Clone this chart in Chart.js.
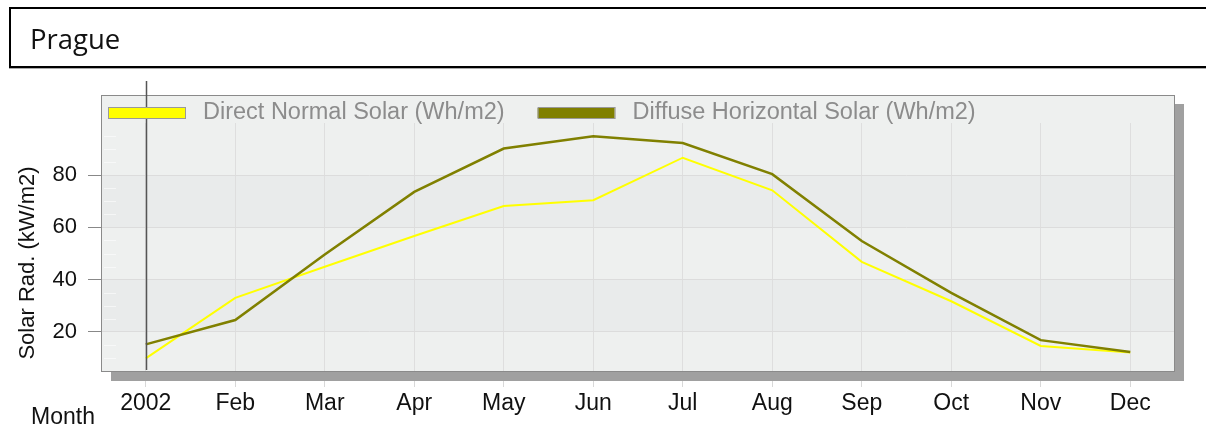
<!DOCTYPE html>
<html>
<head>
<meta charset="utf-8">
<title>Prague</title>
<script src="https://cdn.jsdelivr.net/npm/chart.js@4.4.1/dist/chart.umd.min.js"></script>
<style>
    html, body { margin: 0; padding: 0; background: #fff; overflow: hidden; }
    #wrap { position: relative; width: 1206px; height: 428px; }
    #titleBox {
        position: absolute; left: 9px; top: 7px; width: 1300px; height: 57px;
        border: 2px solid #000; box-shadow: 0 1px 0 #aaa;
        font-family: "Open Sans", sans-serif; font-size: 27.5px; color: #111;
        line-height: 59px; padding-left: 19px; box-sizing: content-box;
    }
    #chart { position: absolute; left: 0; top: 0; }
</style>
</head>
<body>
<div id="wrap">
    <canvas id="chart" width="1206" height="428"></canvas>
    <div id="titleBox">Prague</div>
</div>
<script>
// Data
const months = ['2002', 'Feb', 'Mar', 'Apr', 'May', 'Jun', 'Jul', 'Aug', 'Sep', 'Oct', 'Nov', 'Dec'];
const directNormal = [9.8, 33.0, 44.9, 56.7, 68.2, 70.4, 86.7, 74.2, 46.8, 31.7, 14.6, 12.1];
const diffuseHorizontal = [15.2, 24.5, 49.6, 73.6, 90.2, 94.9, 92.3, 80.4, 54.8, 34.9, 16.8, 12.3];
const yTicks = [20, 40, 60, 80];
const yMin = 4.6;
const yMax = 100;

const FONT = '"Liberation Sans", Arial, sans-serif';

// plot box, bands, shadow, legend, cursor line
const frame = {
    id: 'frame',
    beforeDraw(chart) {
        const ctx = chart.ctx;
        const a = chart.chartArea;
        const y = chart.scales.y;
        const boxTop = 95;
        ctx.save();
        ctx.fillStyle = '#eef0ef';
        ctx.fillRect(a.left, boxTop, a.right - a.left, a.bottom - boxTop);
        // darker bands 60-80 and 20-40
        ctx.fillStyle = '#e9ebeb';
        for (let i = 0; i + 1 < yTicks.length; i += 2) {
            const top = y.getPixelForValue(yTicks[i + 1]);
            const bot = y.getPixelForValue(yTicks[i]);
            ctx.fillRect(a.left, top, a.right - a.left, bot - top);
        }
        // minor ticks
        ctx.strokeStyle = 'rgba(255,255,255,0.55)';
        ctx.lineWidth = 1;
        for (let v = 10; v < yMax; v += 5) {
            if (v % 20 === 0) continue;
            const py = Math.round(y.getPixelForValue(v)) + 0.5;
            ctx.beginPath();
            ctx.moveTo(a.left + 3, py);
            ctx.lineTo(a.left + 15, py);
            ctx.stroke();
        }
        ctx.restore();
    },
    afterDatasetsDraw(chart) {
        const ctx = chart.ctx;
        const a = chart.chartArea;
        const x = chart.scales.x;
        ctx.save();
        // box border
        ctx.strokeStyle = '#8a8a8a';
        ctx.lineWidth = 1;
        ctx.strokeRect(a.left + 0.5, 95.5, a.right - a.left - 1, a.bottom - 95 - 1);
        // cursor line at first month
        const cx = Math.round(x.getPixelForValue(0)) + 0.5;
        ctx.strokeStyle = '#555';
        ctx.lineWidth = 1.5;
        ctx.beginPath();
        ctx.moveTo(cx, 81);
        ctx.lineTo(cx, a.bottom - 2);
        ctx.stroke();
        ctx.restore();
    },
    afterDraw(chart) {
        const ctx = chart.ctx;
        const a = chart.chartArea;
        ctx.save();
        // shadow
        ctx.fillStyle = '#a0a0a0';
        ctx.fillRect(a.right, 104, 9, a.bottom - 104 + 9);
        ctx.fillRect(a.left + 10, a.bottom, a.right - a.left - 10, 9);

        // legend
        ctx.font = '23.5px ' + FONT;
        ctx.textBaseline = 'alphabetic';
        let lx = 108;
        chart.data.datasets.forEach(ds => {
            ctx.fillStyle = ds.borderColor;
            ctx.fillRect(lx, 108, 77, 10);
            ctx.strokeStyle = '#999';
            ctx.lineWidth = 1;
            ctx.strokeRect(lx + 0.5, 107.5, 77, 11);
            ctx.fillStyle = '#8c8c8c';
            ctx.fillText(ds.label, lx + 95, 118.5);
            lx += 95 + ctx.measureText(ds.label).width + 33;
        });

        // axis titles
        ctx.fillStyle = '#111';
        ctx.font = '22px ' + FONT;
        ctx.textAlign = 'center';
        ctx.textBaseline = 'middle';
        ctx.translate(28, 263);
        ctx.rotate(-Math.PI / 2);
        ctx.fillText('Solar Rad. (kW/m2)', 0, 0);
        ctx.setTransform(1, 0, 0, 1, 0, 0);
        ctx.font = '23px ' + FONT;
        ctx.textAlign = 'left';
        ctx.textBaseline = 'alphabetic';
        ctx.fillText('Month', 31, 424);
        ctx.restore();
    }
};

new Chart(document.getElementById('chart'), {
    type: 'line',
    data: {
        labels: months,
        datasets: [{
            label: 'Direct Normal Solar (Wh/m2)',
            data: directNormal,
            borderColor: '#ffff00',
            backgroundColor: '#ffff00',
            borderWidth: 2,
            pointRadius: 0,
            tension: 0,
            order: 1
        }, {
            label: 'Diffuse Horizontal Solar (Wh/m2)',
            data: diffuseHorizontal,
            borderColor: '#808000',
            backgroundColor: '#808000',
            borderWidth: 2.5,
            pointRadius: 0,
            tension: 0,
            order: 0
        }]
    },
    options: {
        responsive: false,
        animation: false,
        layout: { padding: { top: 123, right: 31, left: 0, bottom: 0 } },
        plugins: {
            legend: { display: false },
            tooltip: { enabled: false }
        },
        scales: {
            x: {
                type: 'category',
                offset: true,
                afterFit: s => { s.height = 56; },
                border: { display: false },
                grid: { offset: false, color: '#dedede', tickColor: '#d8d8d8', tickLength: 15 },
                ticks: {
                    autoSkip: false, maxRotation: 0, padding: 3,
                    color: '#111', font: { family: FONT, size: 23 }
                }
            },
            y: {
                min: yMin,
                max: yMax,
                afterFit: s => { s.width = 101; },
                afterBuildTicks: s => { s.ticks = yTicks.map(v => ({ value: v })); },
                border: { display: false },
                grid: { color: '#dcdcdc', tickColor: '#888', tickLength: 13 },
                ticks: {
                    padding: 11,
                    color: '#111', font: { family: FONT, size: 22 }
                }
            }
        }
    },
    plugins: [frame]
});
</script>
</body>
</html>
